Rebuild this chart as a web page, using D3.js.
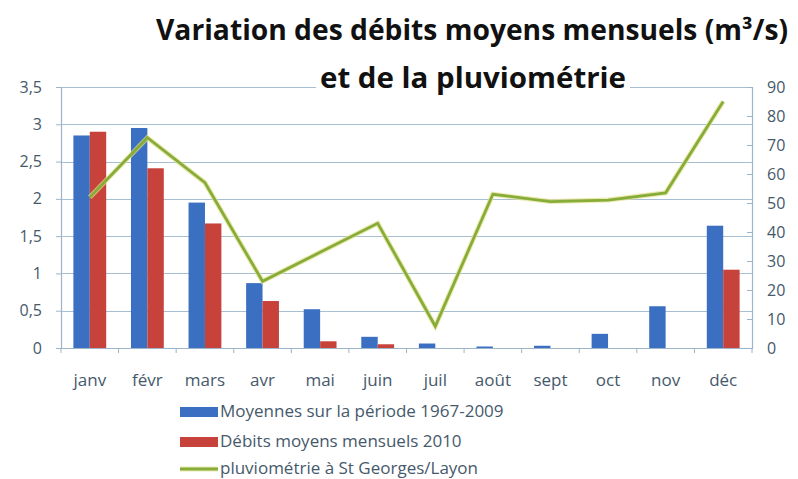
<!DOCTYPE html>
<html>
<head>
<meta charset="utf-8">
<script src="https://cdn.jsdelivr.net/npm/d3@7"></script>
<style>
  body { margin: 0; background: #fff; }
  svg { display: block; }
</style>
</head>
<body>
<svg width="798" height="479"></svg>
<script>
const months = ["janv", "févr", "mars", "avr", "mai", "juin", "juil", "août", "sept", "oct", "nov", "déc"];
const moyennes = [2.85, 2.95, 1.95, 0.87, 0.52, 0.15, 0.06, 0.02, 0.03, 0.19, 0.56, 1.64];
const debits2010 = [2.9, 2.41, 1.67, 0.63, 0.09, 0.05, 0, 0, 0, 0, 0, 1.05];
const pluvio = [52, 72.5, 57, 23, 33, 43, 7.5, 53, 50.5, 51, 53.5, 85];
const leftTicks = [0, 0.5, 1, 1.5, 2, 2.5, 3, 3.5];
const rightTicks = [0, 10, 20, 30, 40, 50, 60, 70, 80, 90];
const seriesNames = ["Moyennes sur la période 1967-2009", "Débits moyens mensuels 2010", "pluviométrie à St Georges/Layon"];

const svg = d3.select("svg");
const plot = { left: 61, right: 752, top: 87, bottom: 348 };
const font = "'Open Sans', 'Liberation Sans', sans-serif";
const axisColor = "#9db4c8";
const labelColor = "#46596b";
const blue = "#3b6fc2", red = "#c8423c", green = "#86ad3a";

const x0 = d3.scaleBand().domain(months).range([plot.left, plot.right])
  .paddingInner(0.43).paddingOuter(0.215);
const x1 = d3.scaleBand().domain(["moy", "deb"]).range([0, x0.bandwidth()]);
const yL = d3.scaleLinear().domain([0, 3.5]).range([plot.bottom, plot.top]);
const yR = d3.scaleLinear().domain([0, 90]).range([plot.bottom, plot.top]);

// Gridlines
svg.append("g")
  .selectAll("line")
  .data(leftTicks.slice(1))
  .join("line")
  .attr("x1", plot.left).attr("x2", plot.right)
  .attr("y1", d => Math.round(yL(d)) + 0.5).attr("y2", d => Math.round(yL(d)) + 0.5)
  .attr("stroke", "#a7bfd3").attr("stroke-width", 1.2);

// Left axis
const leftAxis = svg.append("g")
  .attr("transform", `translate(${plot.left},0)`)
  .call(d3.axisLeft(yL).tickValues(leftTicks).tickSize(5).tickPadding(14)
    .tickFormat(d => String(d).replace(".", ",")));
// Right axis
const rightAxis = svg.append("g")
  .attr("transform", `translate(${plot.right},0)`)
  .call(d3.axisRight(yR).tickValues(rightTicks).tickSize(-5).tickPadding(15));
// Bottom axis
const bottomAxis = svg.append("g")
  .attr("transform", `translate(0,${plot.bottom})`)
  .call(d3.axisBottom(x0).tickSize(0).tickPadding(26));

[leftAxis, rightAxis, bottomAxis].forEach(a => {
  a.select(".domain").attr("stroke", axisColor).attr("stroke-width", 1.2);
  a.selectAll(".tick line").attr("stroke", axisColor);
  a.selectAll("text")
    .attr("font-family", font)
    .attr("font-size", 16)
    .attr("fill", labelColor);
});
bottomAxis.selectAll("text").attr("font-size", 17);

// Category separator ticks on the x axis
svg.append("g")
  .selectAll("line")
  .data(months.concat(["end"]))
  .join("line")
  .attr("x1", (d, i) => plot.left + x0.step() * i)
  .attr("x2", (d, i) => plot.left + x0.step() * i)
  .attr("y1", plot.bottom).attr("y2", plot.bottom + 5)
  .attr("stroke", axisColor);

// Bars
const groups = svg.append("g")
  .selectAll("g")
  .data(months)
  .join("g")
  .attr("transform", d => `translate(${x0(d)},0)`);

groups.append("rect")
  .attr("x", x1("moy"))
  .attr("width", x1.bandwidth())
  .attr("y", (d, i) => yL(moyennes[i]))
  .attr("height", (d, i) => plot.bottom - yL(moyennes[i]))
  .attr("fill", blue);

groups.append("rect")
  .attr("x", x1("deb"))
  .attr("width", x1.bandwidth())
  .attr("y", (d, i) => yL(debits2010[i]))
  .attr("height", (d, i) => plot.bottom - yL(debits2010[i]))
  .attr("fill", red);

// Rainfall line
const line = d3.line()
  .x((d, i) => x0(months[i]) + x0.bandwidth() / 2)
  .y(d => yR(d));

svg.append("path")
  .datum(pluvio)
  .attr("d", line)
  .attr("fill", "none")
  .attr("stroke", "#e6df8c")
  .attr("stroke-width", 5)
  .attr("stroke-opacity", 0.7);
svg.append("path")
  .datum(pluvio)
  .attr("d", line)
  .attr("fill", "none")
  .attr("stroke", green)
  .attr("stroke-width", 2.8);

// Title (white box hides the top gridline behind the second line)
svg.append("rect")
  .attr("x", 316).attr("y", 60)
  .attr("width", 314).attr("height", 34)
  .attr("fill", "#fff");
const title = svg.append("g")
  .attr("font-family", font)
  .attr("font-weight", "bold")
  .attr("fill", "#111");
title.append("text")
  .attr("x", 472).attr("y", 40)
  .attr("text-anchor", "middle")
  .attr("font-size", 28)
  .attr("textLength", 632).attr("lengthAdjust", "spacingAndGlyphs")
  .text("Variation des débits moyens mensuels (m³/s)");
title.append("text")
  .attr("x", 473).attr("y", 88)
  .attr("text-anchor", "middle")
  .attr("font-size", 28)
  .attr("textLength", 306).attr("lengthAdjust", "spacingAndGlyphs")
  .text("et de la pluviométrie");

// Legend
const legend = svg.append("g").attr("transform", "translate(180,407)");
const legendItems = [
  { label: seriesNames[0], color: blue, type: "rect", dy: 0 },
  { label: seriesNames[1], color: red, type: "rect", dy: 30 },
  { label: seriesNames[2], color: green, type: "line", dy: 57 }
];
legend.selectAll("g")
  .data(legendItems)
  .join("g")
  .attr("transform", d => `translate(0,${d.dy})`)
  .each(function(d) {
    const item = d3.select(this);
    if (d.type === "rect") {
      item.append("rect")
        .attr("width", 38).attr("height", 10)
        .attr("fill", d.color);
    } else {
      item.append("line")
        .attr("x1", 0).attr("x2", 38)
        .attr("y1", 5).attr("y2", 5)
        .attr("stroke", "#e6df8c").attr("stroke-width", 5).attr("stroke-opacity", 0.7);
      item.append("line")
        .attr("x1", 0).attr("x2", 38)
        .attr("y1", 5).attr("y2", 5)
        .attr("stroke", d.color).attr("stroke-width", 2.8);
    }
    item.append("text")
      .attr("x", 40).attr("y", 10)
      .attr("font-family", font)
      .attr("font-size", 17)
      .attr("fill", labelColor)
      .text(d.label);
  });
</script>
</body>
</html>
